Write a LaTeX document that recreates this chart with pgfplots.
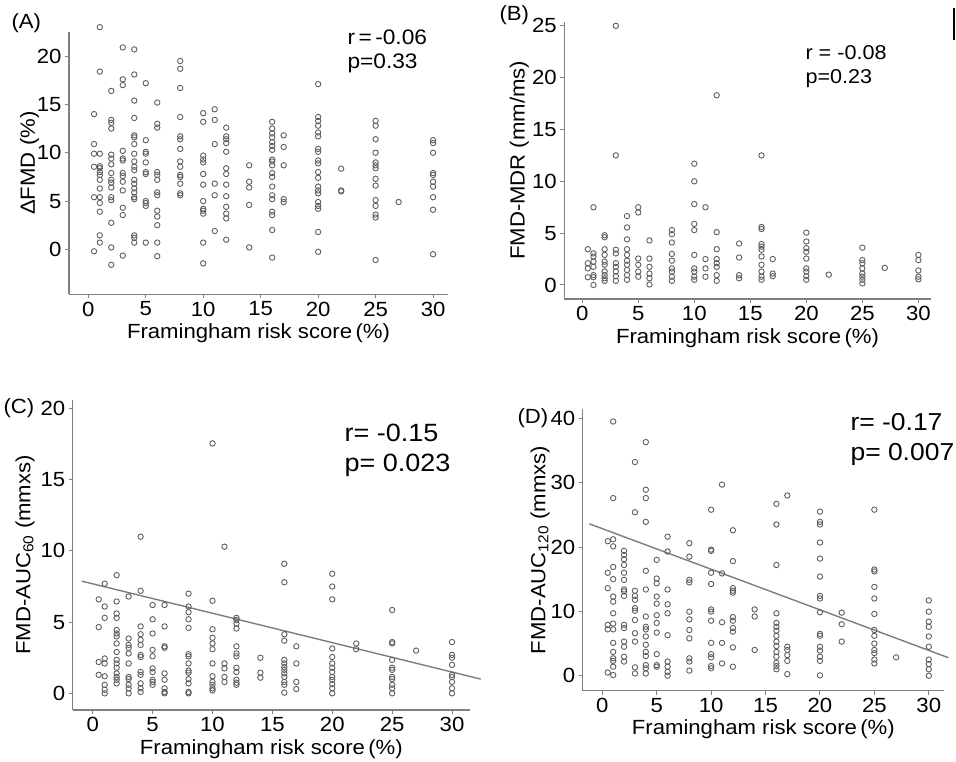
\documentclass[border=0pt]{standalone}
\usepackage{fontspec}
\setmainfont{Liberation Sans}[FakeStretch=1.08]
\usepackage{pgfplots}
\pgfplotsset{compat=1.18}

\definecolor{axgray}{RGB}{128,128,128}
\definecolor{dotgray}{RGB}{95,95,95}
\definecolor{fitgray}{RGB}{125,125,125}

\newcommand{\lbl}{\fontsize{20.5}{23}\selectfont}

\pgfplotsset{
  panel/.style={
    scale only axis,
    anchor=south west,
    axis lines*=left,
    axis line style={axgray, line width=1.3pt},
    tick style={axgray, line width=1pt},
    tick align=outside,
    major tick length=4pt,
    xtick={0,5,...,30},
    ticklabel style={font=\lbl, text=black},
    /pgf/number format/assume math mode=true,
    label style={font=\lbl},
    xlabel={Framingham risk score\,(\%)},
    xlabel style={at={(axis description cs:0.5,0)}, anchor=center, yshift=-39pt},
    clip=false,
  },
  dots/.style={only marks, mark=o, mark size=2.7pt, color=dotgray, mark options={line width=0.9pt}},
  fit/.style={fitgray, line width=1.4pt, no marks},
}

\begin{document}
\begin{tikzpicture}
\useasboundingbox (0,0) rectangle (956pt,762pt);

% (A) delta FMD
\begin{axis}[panel, at={(69pt,467.7pt)}, width=379pt, height=262.3pt,
  xmin=-1.68, xmax=31.3, ymin=-4.65, ymax=22.5, ytick={0,5,...,20},
  ylabel={ΔFMD (\%)},
  ylabel style={at={(axis description cs:-0.104,0.5)}, anchor=center}]
\addplot[dots] coordinates {
(0.5,14.0) (0.5,10.9) (0.5,9.9) (0.5,8.55) (0.5,5.4) (0.5,-0.2)
(1,23.0) (1,18.4) (1,9.9) (1,8.6) (1,8.4) (1,8.0) (1,7.7) (1,7.2) (1,6.3) (1,5.4) (1,4.8) (1,3.9) (1,1.45) (1,0.7)
(2,16.4) (2,13.4) (2,13.1) (2,12.5) (2,9.8) (2,9.4) (2,8.8) (2,7.9) (2,7.2) (2,6.9) (2,6.4) (2,5.4) (2,5.1) (2,2.75) (2,0.2) (2,-1.6)
(3,20.9) (3,17.6) (3,17.0) (3,10.2) (3,9.4) (3,9.2) (3,7.9) (3,7.6) (3,7.0) (3,6.1) (3,4.3) (3,3.55) (3,-0.65)
(4,20.7) (4,18.1) (4,15.4) (4,13.6) (4,11.8) (4,11.6) (4,10.9) (4,9.9) (4,9.1) (4,8.55) (4,8.2) (4,7.2) (4,6.8) (4,6.3) (4,5.9) (4,5.4) (4,5.2) (4,1.45) (4,1.2) (4,0.7)
(5,17.2) (5,11.3) (5,10.1) (5,9.9) (5,9.0) (5,8.0) (5,7.8) (5,5.0) (5,4.8) (5,4.5) (5,0.7)
(6,15.2) (6,13.0) (6,12.6) (6,8.0) (6,7.7) (6,7.2) (6,5.9) (6,5.6) (6,4.0) (6,3.4) (6,2.5) (6,0.7) (6,-0.7)
(8,19.5) (8,18.7) (8,16.7) (8,13.7) (8,11.7) (8,11.4) (8,10.4) (8,9.1) (8,8.55) (8,7.7) (8,7.5) (8,6.8) (8,5.8) (8,5.6)
(10,14.1) (10,13.2) (10,9.7) (10,9.3) (10,9.0) (10,7.8) (10,6.7) (10,5.0) (10,4.2) (10,4.0) (10,3.7) (10,0.7) (10,-1.45)
(11,14.5) (11,13.4) (11,10.9) (11,6.8) (11,5.6) (11,1.9)
(12,12.6) (12,11.7) (12,11.4) (12,11.0) (12,10.1) (12,8.4) (12,7.8) (12,6.7) (12,5.5) (12,4.4) (12,3.7) (12,3.2) (12,1.0)
(14,8.7) (14,7.0) (14,6.4) (14,4.6) (14,0.2)
(16,13.2) (16,12.5) (16,12.0) (16,11.6) (16,11.1) (16,10.7) (16,10.3) (16,9.3) (16,9.1) (16,8.7) (16,7.9) (16,7.5) (16,6.5) (16,5.6) (16,5.2) (16,3.9) (16,3.55) (16,2.0) (16,-0.85)
(17,11.8) (17,10.6) (17,8.7) (17,5.2) (17,4.9)
(20,17.1) (20,13.7) (20,13.3) (20,12.8) (20,12.1) (20,11.7) (20,10.4) (20,10.1) (20,9.2) (20,8.9) (20,8.0) (20,7.4) (20,6.5) (20,6.1) (20,5.8) (20,4.9) (20,4.5) (20,4.2) (20,1.8) (20,-0.25)
(22,8.35) (22,6.1) (22,6.0)
(25,13.3) (25,12.8) (25,11.4) (25,10.0) (25,9.0) (25,8.7) (25,8.4) (25,7.3) (25,6.6) (25,5.1) (25,4.5) (25,3.6) (25,3.3) (25,-1.1)
(27,4.9)
(30,11.3) (30,11.0) (30,10.0) (30,7.9) (30,7.7) (30,7.0) (30,6.5) (30,5.4) (30,4.1) (30,-0.5)
};
\end{axis}

% (B) FMD-MDR
\begin{axis}[panel, at={(564.3pt,463pt)}, width=366.4pt, height=277.3pt,
  xmin=-1.6, xmax=31.1, ymin=-1.35, ymax=25.4, ytick={0,5,...,25},
  ylabel={FMD-MDR (mm/ms)},
  ylabel style={at={(axis description cs:-0.123,0.5)}, anchor=center}]
\addplot[dots] coordinates {
(0.5,3.45) (0.5,2.1) (0.5,1.6) (0.5,0.75)
(1,7.5) (1,3.05) (1,2.75) (1,2.25) (1,1.75) (1,0.95) (1,0.75) (1,0.0)
(2,4.8) (2,4.6) (2,3.45) (2,2.9) (2,2.25) (2,1.95) (2,1.3) (2,0.95) (2,0.65) (2,0.4)
(3,25.0) (3,12.5) (3,3.4) (3,3.05) (3,2.1) (3,1.75) (3,1.3) (3,0.85) (3,0.4)
(4,6.65) (4,5.55) (4,4.4) (4,3.45) (4,2.9) (4,2.35) (4,1.95) (4,1.45) (4,0.95) (4,0.5)
(5,7.5) (5,7.0) (5,2.55) (5,1.95) (5,1.3) (5,0.8)
(6,4.3) (6,2.55) (6,1.75) (6,1.1) (6,0.65) (6,0.05)
(8,5.3) (8,4.9) (8,4.1) (8,3.0) (8,2.35) (8,1.6) (8,1.3) (8,0.8) (8,0.4)
(10,11.7) (10,10.0) (10,7.8) (10,5.9) (10,5.3) (10,2.9) (10,1.6) (10,1.3) (10,0.8) (10,0.5)
(11,7.5) (11,2.5) (11,1.6) (11,0.8)
(12,18.3) (12,5.1) (12,3.45) (12,2.5) (12,2.1) (12,1.75) (12,0.95) (12,0.4)
(14,4.0) (14,2.65) (14,0.95) (14,0.65)
(16,12.5) (16,5.6) (16,5.4) (16,3.95) (16,3.7) (16,3.4) (16,2.75) (16,1.95) (16,1.3) (16,0.8) (16,0.5)
(17,2.5) (17,1.1) (17,0.85)
(20,5.05) (20,4.2) (20,3.55) (20,3.2) (20,2.55) (20,1.6) (20,1.3) (20,0.85) (20,0.5)
(22,1.0)
(25,3.6) (25,2.4) (25,2.1) (25,1.6) (25,1.1) (25,0.8) (25,0.5) (25,0.15)
(27,1.65)
(30,2.9) (30,2.4) (30,1.4) (30,0.8) (30,0.55)
};
\end{axis}

% (C) FMD-AUC60
\begin{axis}[panel, at={(72.7pt,52pt)}, width=397.3pt, height=310pt,
  xmin=-1.67, xmax=31.5, ymin=-1.17, ymax=20.6, ytick={0,5,...,20},
  ylabel={FMD-AUC\textsubscript{60} (mmxs)},
  ylabel style={at={(axis description cs:-0.12,0.5)}, anchor=center}]
\addplot[dots] coordinates {
(0.5,6.6) (0.5,4.65) (0.5,2.2) (0.5,1.3)
(1,7.7) (1,6.1) (1,5.3) (1,2.45) (1,2.1) (1,1.2) (1,0.6) (1,0.25) (1,0.0)
(2,8.3) (2,6.45) (2,5.6) (2,5.3) (2,4.45) (2,4.2) (2,4.0) (2,3.5) (2,2.9) (2,2.35) (2,2.1) (2,1.8) (2,1.4) (2,1.15) (2,0.95) (2,0.7)
(3,6.8) (3,3.85) (3,3.4) (3,3.2) (3,2.8) (3,2.1) (3,1.15) (3,1.0) (3,0.6) (3,0.35) (3,0.0)
(4,11.0) (4,7.2) (4,4.7) (4,4.15) (4,3.75) (4,3.4) (4,2.7) (4,2.55) (4,1.5) (4,1.3) (4,0.7) (4,0.35) (4,0.1)
(5,6.2) (5,5.2) (5,4.2) (5,3.05) (5,2.6) (5,1.75) (5,1.5) (5,0.95) (5,0.8) (5,0.6)
(6,6.2) (6,4.7) (6,3.3) (6,3.2) (6,1.4) (6,0.95) (6,0.35) (6,0.1) (6,0.0)
(8,7.0) (8,6.1) (8,5.7) (8,5.2) (8,4.6) (8,2.75) (8,2.6) (8,2.1) (8,1.6) (8,1.45) (8,1.0) (8,0.7) (8,0.1) (8,0.0)
(10,17.55) (10,6.5) (10,4.5) (10,3.9) (10,3.5) (10,3.1) (10,2.1) (10,1.2) (10,0.8) (10,0.6) (10,0.35) (10,0.2)
(11,10.3) (11,2.1) (11,1.75) (11,1.15) (11,0.8)
(12,5.3) (12,5.15) (12,4.9) (12,4.55) (12,3.3) (12,2.8) (12,2.6) (12,1.8) (12,1.5) (12,0.95) (12,0.75) (12,0.6)
(14,2.5) (14,1.45) (14,1.1)
(16,9.1) (16,7.8) (16,4.15) (16,3.7) (16,2.35) (16,2.1) (16,1.85) (16,1.65) (16,1.4) (16,1.15) (16,0.8) (16,0.6) (16,0.05)
(17,3.3) (17,2.1) (17,0.8) (17,0.3)
(20,8.4) (20,7.5) (20,6.6) (20,3.15) (20,2.55) (20,2.1) (20,1.8) (20,1.5) (20,1.15) (20,0.95) (20,0.65) (20,0.35) (20,0.0)
(22,3.5) (22,3.1)
(25,5.85) (25,3.6) (25,3.5) (25,2.35) (25,1.8) (25,1.65) (25,1.15) (25,1.0) (25,0.6) (25,0.35) (25,0.0)
(27,3.0)
(30,3.6) (30,2.7) (30,2.5) (30,2.0) (30,1.3) (30,1.15) (30,0.8) (30,0.35) (30,0.0)
};
\addplot[fit] coordinates {(-0.92,7.88) (32.4,1.0)};
\end{axis}

% (D) FMD-AUC120
\begin{axis}[panel, at={(582.7pt,71.3pt)}, width=361.3pt, height=281.4pt,
  xmin=-1.8, xmax=31.4, ymin=-2.33, ymax=41.4, ytick={0,10,...,40},
  ylabel={FMD-AUC\textsubscript{120} (mmxs)},
  ylabel style={at={(axis description cs:-0.118,0.5)}, anchor=center}]
\addplot[dots] coordinates {
(0.5,20.9) (0.5,16.0) (0.5,13.6) (0.5,7.9) (0.5,7.2) (0.5,0.5)
(1,39.5) (1,27.6) (1,21.2) (1,20.1) (1,16.9) (1,15.0) (1,12.3) (1,11.5) (1,9.7) (1,8.1) (1,7.2) (1,5.1) (1,3.7) (1,2.7) (1,2.3) (1,1.4) (1,0.1)
(2,19.4) (2,18.75) (2,18.1) (2,17.2) (2,16.0) (2,14.9) (2,13.4) (2,13.1) (2,12.4) (2,7.9) (2,7.4) (2,5.3) (2,4.5) (2,2.95) (2,2.2)
(3,33.2) (3,25.4) (3,13.2) (3,12.4) (3,11.8) (3,10.5) (3,10.1) (3,8.65) (3,6.6) (3,5.3) (3,1.3) (3,0.35)
(4,36.3) (4,28.9) (4,27.6) (4,23.9) (4,16.3) (4,13.4) (4,9.2) (4,7.6) (4,7.2) (4,6.1) (4,4.8) (4,3.7) (4,3.05) (4,1.65) (4,1.15) (4,0.35)
(5,18.0) (5,15.1) (5,14.35) (5,12.3) (5,11.2) (5,9.4) (5,8.2) (5,6.7) (5,3.35) (5,1.65) (5,1.4)
(6,21.6) (6,19.3) (6,13.4) (6,11.1) (6,9.7) (6,6.3) (6,2.2) (6,1.4) (6,0.6) (6,0.0)
(8,20.6) (8,18.5) (8,14.9) (8,14.5) (8,9.95) (8,8.75) (8,7.1) (8,5.8) (8,2.7) (8,2.2) (8,0.8)
(10,25.8) (10,19.6) (10,19.4) (10,16.0) (10,14.25) (10,10.3) (10,9.95) (10,8.55) (10,5.1) (10,3.35) (10,2.85) (10,1.5) (10,1.15)
(11,29.7) (11,15.9) (11,8.3) (11,5.1) (11,1.9)
(12,22.6) (12,17.8) (12,13.6) (12,13.2) (12,12.9) (12,9.1) (12,8.55) (12,7.4) (12,6.85) (12,4.4) (12,1.4)
(14,10.3) (14,9.2) (14,4.0)
(16,26.7) (16,23.5) (16,17.2) (16,9.7) (16,8.2) (16,7.6) (16,7.0) (16,6.2) (16,5.3) (16,4.6) (16,3.7) (16,2.95) (16,2.0) (16,1.5) (16,1.0)
(17,28.0) (17,4.5) (17,4.0) (17,3.2) (17,2.3) (17,0.25)
(20,25.5) (20,23.9) (20,23.5) (20,20.7) (20,18.2) (20,15.4) (20,12.4) (20,12.0) (20,9.85) (20,6.5) (20,6.2) (20,4.5) (20,3.9) (20,2.95) (20,2.3) (20,0.05)
(22,9.8) (22,8.0) (22,5.3)
(25,25.8) (25,16.5) (25,16.2) (25,13.8) (25,12.0) (25,9.6) (25,7.1) (25,6.2) (25,5.0) (25,4.0) (25,3.5) (25,2.5) (25,1.9)
(27,2.85)
(30,11.7) (30,9.95) (30,8.4) (30,7.6) (30,6.1) (30,4.5) (30,2.5) (30,1.8) (30,1.0) (30,0.0)
};
\addplot[fit] coordinates {(-1.19,23.6) (31.8,2.8)};
\end{axis}

% panel letters and statistics
\node[anchor=west, font=\lbl] at (8pt,739pt) {(A)};
\node[anchor=west, font=\lbl] at (496pt,747pt) {(B)};
\node[anchor=west, font=\lbl] at (0pt,354pt) {(C)};
\node[anchor=west, font=\lbl] at (514pt,344pt) {(D)};

\node[anchor=west, font=\fontsize{21}{24}\selectfont] at (344pt,725pt) {r\,=\,-0.06};
\node[anchor=west, font=\fontsize{21}{24}\selectfont] at (344pt,699pt) {p=0.33};
\node[anchor=west, font=\fontsize{20}{23}\selectfont] at (802pt,709pt) {r = -0.08};
\node[anchor=west, font=\fontsize{20}{23}\selectfont] at (802pt,683pt) {p=0.23};
\node[anchor=west, font=\fontsize{25}{28}\selectfont] at (341pt,329pt) {r= -0.15};
\node[anchor=west, font=\fontsize{25}{28}\selectfont] at (341pt,297pt) {p= 0.023};
\node[anchor=west, font=\fontsize{24.5}{27}\selectfont] at (847pt,340pt) {r= -0.17};
\node[anchor=west, font=\fontsize{24.5}{27}\selectfont] at (847pt,308pt) {p= 0.007};

\fill[black] (953pt,754pt) rectangle (955pt,722pt);
\end{tikzpicture}
\end{document}
